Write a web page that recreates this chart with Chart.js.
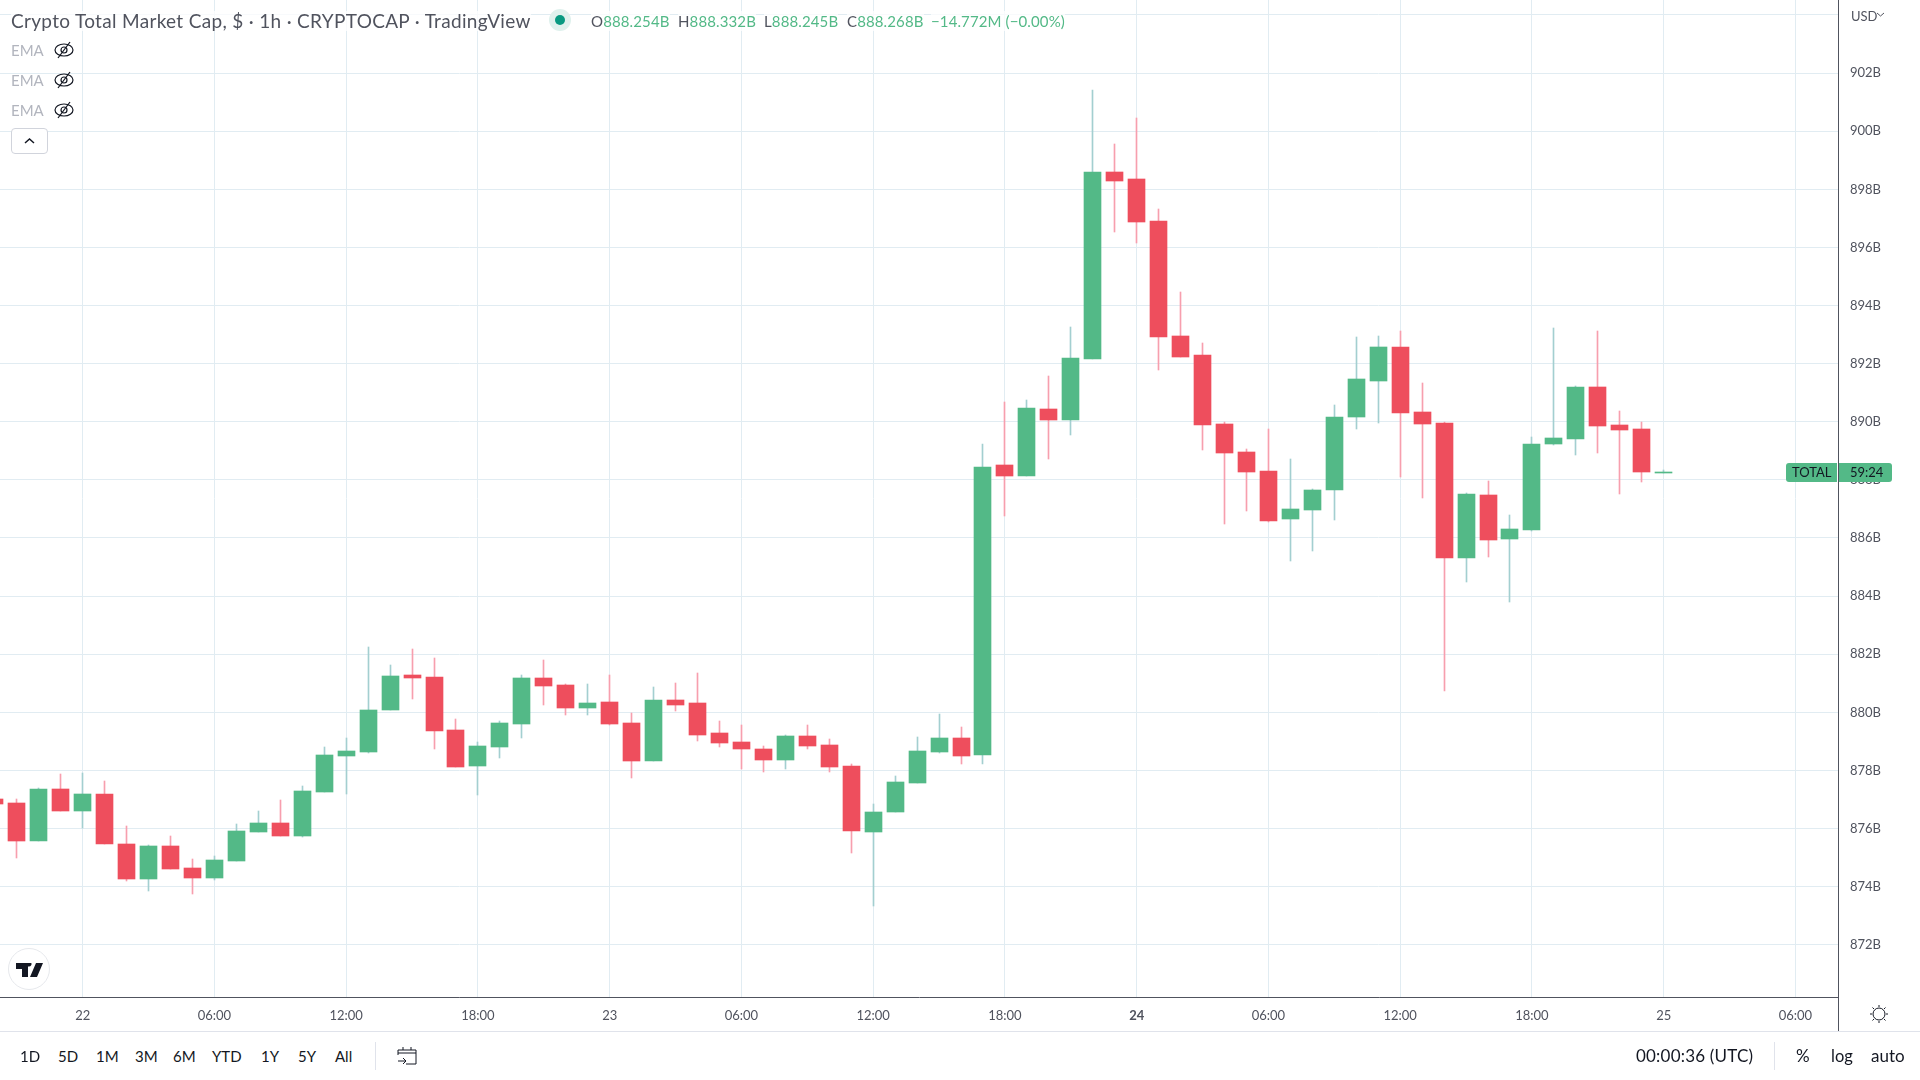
<!DOCTYPE html>
<html lang="en">
<head>
<meta charset="UTF-8">
<title>Crypto Total Market Cap</title>
<script src="https://cdn.jsdelivr.net/npm/chart.js"></script>
<style>
    html, body { margin: 0; padding: 0; background: #fff; overflow: hidden; }
    body { width: 1920px; height: 1080px; position: relative; font-family: Lato, "Noto Sans", sans-serif; }
    #chart { position: absolute; left: 0; top: 0; }
    .t { position: absolute; white-space: nowrap; line-height: 20px; height: 20px; }
    .title { background: rgba(255,255,255,.75); color: #50535e; font-size: 19px; letter-spacing: .32px; }
    .ohlc { color: #53b987; font-size: 15px; letter-spacing: .12px; background: rgba(255,255,255,.75); }
    .ohlc b { font-weight: 400; color: #50535e; }
    .ema { color: #b2b5be; font-size: 15px; }
    .range { color: #131722; font-size: 15px; }
    .abs { position: absolute; }
</style>
</head>
<body>
<canvas id="chart" width="1920" height="1031"></canvas>

<!-- axis line carries on through the time scale, then the two toolbar rules -->
<div class="abs" style="left:1838px;top:997px;width:1px;height:34px;background:#50535e"></div>
<div class="abs" style="left:0;top:1031px;width:1920px;height:1px;background:#e0e3eb"></div>
<div class="abs" style="left:375px;top:1042px;width:1px;height:28px;background:#e0e3eb"></div>
<div class="abs" style="left:1774px;top:1042px;width:1px;height:28px;background:#e0e3eb"></div>

<!-- legend -->
<div class="t title" style="left:11px;top:11px">Crypto Total Market Cap, $ · 1h · CRYPTOCAP · TradingView</div>
<div class="abs" style="left:549px;top:9px;width:22px;height:22px;border-radius:50%;background:#dff1ed"></div>
<div class="abs" style="left:555px;top:15px;width:10px;height:10px;border-radius:50%;background:#089981"></div>
<div class="t ohlc" style="left:591px;top:11px"><b>O</b>888.254B</div>
<div class="t ohlc" style="left:678px;top:11px"><b>H</b>888.332B</div>
<div class="t ohlc" style="left:764px;top:11px"><b>L</b>888.245B</div>
<div class="t ohlc" style="left:847px;top:11px"><b>C</b>888.268B</div>
<div class="t ohlc" style="left:931px;top:11px">−14.772M (−0.00%)</div>

<div class="t ema" style="left:11px;top:40px">EMA</div>
<div class="t ema" style="left:11px;top:70px">EMA</div>
<div class="t ema" style="left:11px;top:100px">EMA</div>
<svg class="abs" style="left:54px;top:41px" width="20" height="18" fill="none" stroke="#131722" stroke-width="1.2"><ellipse cx="10" cy="9" rx="9" ry="6"/><circle cx="10" cy="9" r="3"/><path d="M16 1 4 17"/></svg>
<svg class="abs" style="left:54px;top:71px" width="20" height="18" fill="none" stroke="#131722" stroke-width="1.2"><ellipse cx="10" cy="9" rx="9" ry="6"/><circle cx="10" cy="9" r="3"/><path d="M16 1 4 17"/></svg>
<svg class="abs" style="left:54px;top:101px" width="20" height="18" fill="none" stroke="#131722" stroke-width="1.2"><ellipse cx="10" cy="9" rx="9" ry="6"/><circle cx="10" cy="9" r="3"/><path d="M16 1 4 17"/></svg>
<div class="abs" style="left:11px;top:128px;width:35px;height:24px;border:1px solid #d1d4dc;border-radius:4px;background:#fff"></div>
<svg class="abs" style="left:24px;top:137px" width="11" height="8" fill="none" stroke="#131722" stroke-width="1.5"><path d="M1 6 5.5 2 10 6"/></svg>

<!-- logo -->
<div class="abs" style="left:8px;top:948px;width:40px;height:40px;border:1px solid #e6e8ec;border-radius:50%;background:#fff"></div>
<svg class="abs" style="left:16px;top:963px" width="27" height="14" fill="#131722"><path d="M0 0H12V14H6V6H0ZM13 3.5a2.5 2.5 0 1 1 0.01 0ZM20 0H27L21 14H14Z"/></svg>

<!-- scale corner -->
<div class="t" style="left:1851px;top:6px;color:#50535e;font-size:13px">USD</div>
<svg class="abs" style="left:1876px;top:12px" width="9" height="6" fill="none" stroke="#50535e"><path d="M1 1 4.5 4 8 1"/></svg>
<svg class="abs" style="left:1869px;top:1004px" width="20" height="20" fill="none" stroke="#131722"><circle cx="10" cy="10" r="6"/><path d="M10 1v2M10 17v2M1 10h2M17 10h2M3.5 3.5 5 5M15 15l1.5 1.5M3.5 16.5 5 15M15 5l1.5-1.5"/></svg>

<!-- last value tag -->
<div class="abs" style="left:1786px;top:463px;width:106px;height:19px;background:#53b987;border-radius:3px"></div>
<div class="abs" style="left:1837px;top:463px;width:1px;height:19px;background:#fff"></div>
<div class="abs" style="left:1838px;top:463px;width:1px;height:19px;background:#50535e"></div>
<div class="t" style="left:1792px;top:463px;height:19px;line-height:19px;color:#131722;font-size:13px">TOTAL</div>
<div class="t" style="left:1850px;top:463px;height:19px;line-height:19px;color:#131722;font-size:13px">59:24</div>

<!-- bottom toolbar -->
<div class="t range" style="left:20px;top:1046px">1D</div>
<div class="t range" style="left:58px;top:1046px">5D</div>
<div class="t range" style="left:96px;top:1046px">1M</div>
<div class="t range" style="left:135px;top:1046px">3M</div>
<div class="t range" style="left:173px;top:1046px">6M</div>
<div class="t range" style="left:212px;top:1046px">YTD</div>
<div class="t range" style="left:261px;top:1046px">1Y</div>
<div class="t range" style="left:298px;top:1046px">5Y</div>
<div class="t range" style="left:335px;top:1046px">All</div>
<svg class="abs" style="left:397px;top:1046px" width="20" height="20" fill="none" stroke="#131722"><path d="M1 9V4H19V18H9M1 7H19M6 1V4M14 1V4M1 15H8M6 12l3 3-3 3"/></svg>
<div class="t range" style="left:1636px;top:1046px;font-size:17px;letter-spacing:.2px">00:00:36 (UTC)</div>
<div class="t range" style="left:1796px;top:1046px;font-size:17px">%</div>
<div class="t range" style="left:1831px;top:1046px;font-size:16.5px">log</div>
<div class="t range" style="left:1871px;top:1046px;font-size:17px">auto</div>

<script>
// hours counted from 00:00 on the 22nd
const hours = [-4,-3,-2,-1,0,1,2,3,4,5,6,7,8,9,10,11,12,13,14,15,16,17,18,19,20,21,22,23,24,25,26,27,28,29,30,31,32,33,34,35,36,37,38,39,40,41,42,43,44,45,46,47,48,49,50,51,52,53,54,55,56,57,58,59,60,61,62,63,64,65,66,67,68,69,70,71,72];

const opens = [877.03,876.89,875.58,877.37,876.61,877.20,875.48,874.27,875.41,874.65,874.31,874.89,875.89,876.20,875.75,877.27,878.51,878.64,880.09,881.30,881.23,879.40,878.16,878.82,879.61,881.19,880.95,880.16,880.37,879.64,878.33,880.43,880.33,879.30,878.99,878.75,878.37,879.20,878.89,878.16,875.89,876.58,877.58,878.64,879.13,878.54,888.52,888.14,890.45,890.07,892.17,898.61,898.37,896.92,892.96,892.31,889.93,888.97,888.32,886.66,886.97,887.66,890.17,891.41,892.58,890.35,889.97,885.32,887.49,885.97,886.28,889.24,889.42,891.21,889.90,889.76,888.254];
const highs = [877.03,877.03,877.41,877.89,877.92,877.65,876.10,875.44,875.75,874.96,875.07,876.17,876.61,876.99,877.47,878.82,879.13,882.26,881.64,882.19,881.88,879.78,878.99,879.71,881.30,881.81,880.99,880.99,881.30,879.99,880.88,881.02,881.36,879.71,879.57,878.85,879.23,879.57,879.09,878.23,876.85,877.82,879.16,879.95,879.51,889.24,890.69,890.76,891.59,893.27,901.43,899.57,900.47,897.33,894.48,892.72,890.00,889.07,889.76,888.73,887.70,890.59,892.93,892.96,893.13,891.34,890.00,887.56,887.97,886.80,889.49,893.24,891.24,893.13,890.38,890.00,888.332];
const lows = [876.85,875.00,875.58,876.61,876.03,875.48,874.20,873.86,874.62,873.76,874.24,874.89,875.89,875.75,875.72,877.27,877.20,878.61,880.09,880.47,878.75,878.13,877.16,878.44,879.13,880.26,879.92,879.92,879.57,877.75,878.33,880.06,879.02,878.82,878.06,877.96,878.06,878.75,877.96,875.17,873.34,876.58,877.58,878.61,878.23,878.23,886.77,888.14,888.73,889.55,892.17,896.54,896.16,891.79,892.24,889.04,886.49,886.94,886.56,885.22,885.56,886.63,889.76,889.97,888.11,887.39,880.74,884.50,885.36,883.81,886.25,889.21,888.87,888.94,887.52,887.94,888.245];
const closes = [876.85,875.58,877.37,876.61,877.20,875.48,874.27,875.41,874.62,874.31,874.93,875.93,876.20,875.75,877.30,878.54,878.68,880.09,881.26,881.19,879.37,878.13,878.85,879.64,881.19,880.92,880.16,880.33,879.61,878.33,880.43,880.26,879.23,878.95,878.75,878.37,879.20,878.85,878.13,875.93,876.58,877.61,878.68,879.13,878.51,888.45,888.14,890.48,890.07,892.20,898.61,898.30,896.89,892.93,892.24,889.90,888.94,888.28,886.60,887.01,887.66,890.17,891.48,892.58,890.31,889.93,885.32,887.52,885.94,886.32,889.24,889.45,891.21,889.86,889.73,888.28,888.268];

const yTicks = [872,874,876,878,880,882,884,886,888,890,892,894,896,898,900,902,904];
const yTickLabels = ['872B','874B','876B','878B','880B','882B','884B','886B','888B','890B','892B','894B','896B','898B','900B','902B',''];
const xTicks = [0,6,12,18,24,30,36,42,48,54,60,66,72,78];
const xTickLabels = ['22','06:00','12:00','18:00','23','06:00','12:00','18:00','24','06:00','12:00','18:00','25','06:00'];

const UP = '#53b987', DOWN = '#ee4e5d', WICK_UP = '#a3cfd0', WICK_DOWN = '#f79fae';
const GRID = '#e1ecf2', AXIS = '#50535e';

// TradingView keeps candles on whole pixels, so round what the scales gave us
const snapCandles = {
    id: 'snapCandles',
    beforeDatasetsDraw(chart) {
        chart.data.datasets.forEach((ds, i) => {
            chart.getDatasetMeta(i).data.forEach(el => {
                el.x = Math.floor(el.x) + 0.5;
                el.y = Math.round(el.y);
                el.base = Math.round(el.base);
                if (el.y === el.base) el.base = el.y + 1;
            });
        });
    }
};

new Chart(document.getElementById('chart'), {
    type: 'bar',
    data: {
        datasets: [{
            label: 'wick',
            data: hours.map((h, i) => ({ x: h, y: [lows[i], highs[i]] })),
            backgroundColor: hours.map((h, i) => closes[i] >= opens[i] ? WICK_UP : WICK_DOWN),
            maxBarThickness: 1,
            order: 2
        }, {
            label: 'body',
            data: hours.map((h, i) => ({ x: h, y: [opens[i], closes[i]] })),
            backgroundColor: hours.map((h, i) => closes[i] >= opens[i] ? UP : DOWN),
            maxBarThickness: 17,
            order: 1
        }]
    },
    plugins: [snapCandles],
    options: {
        responsive: false,
        animation: false,
        events: [],
        grouped: false,
        barPercentage: 1,
        categoryPercentage: 1,
        layout: { padding: 0 },
        plugins: { legend: { display: false }, tooltip: { enabled: false } },
        scales: {
            x: {
                type: 'linear',
                offset: false,
                min: -3.766,
                max: 79.939,
                afterBuildTicks(s) { s.ticks = xTicks.map(v => ({ value: v })); },
                afterFit(s) { s.height = 34; s.paddingLeft = 0; s.paddingRight = 0; },
                grid: { offset: false, color: GRID, drawTicks: false },
                border: { display: true, color: AXIS },
                ticks: {
                    autoSkip: false,
                    maxRotation: 0,
                    padding: 11,
                    color: AXIS,
                    font: c => ({ family: 'Lato', size: 13, weight: c.index === 8 ? 'bold' : 'normal' }),
                    callback: (v, i) => xTickLabels[i]
                }
            },
            y: {
                position: 'right',
                min: 870.202,
                max: 904.516,
                afterBuildTicks(s) { s.ticks = yTicks.map(v => ({ value: v })); },
                afterFit(s) { s.width = 82; s.paddingTop = 0; s.paddingBottom = 0; },
                grid: { color: GRID, drawTicks: false },
                border: { display: true, color: AXIS },
                ticks: {
                    padding: 12,
                    color: AXIS,
                    font: { family: 'Lato', size: 13 },
                    callback: (v, i) => yTickLabels[i]
                }
            }
        }
    }
});
</script>
</body>
</html>
